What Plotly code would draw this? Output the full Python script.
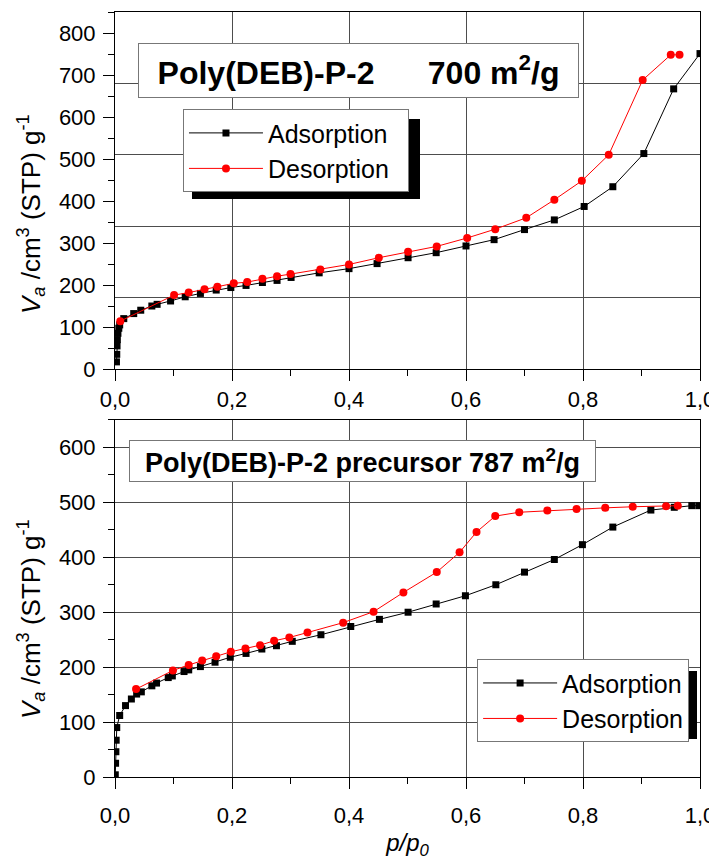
import plotly.graph_objects as go

# ---------------- data ----------------
# Top panel: Poly(DEB)-P-2 (700 m2/g)
top_ads_x = [0.0025, 0.003, 0.0035, 0.004, 0.005, 0.0065, 0.008, 0.015, 0.032, 0.044, 0.063, 0.072, 0.095,
             0.12, 0.146, 0.173, 0.198, 0.224, 0.252, 0.277, 0.301, 0.349, 0.4, 0.448, 0.501, 0.549, 0.6,
             0.648, 0.7, 0.751, 0.802, 0.851, 0.904, 0.955, 1.0]
top_ads_y = [17, 35, 55, 70, 85, 97, 105, 120, 132, 140, 150, 154, 162,
             172, 180, 188, 194, 199, 206, 211, 218, 229, 239, 251, 265, 277, 293,
             308, 332, 355, 387, 434, 513, 667, 751]
top_des_x = [0.009, 0.101, 0.126, 0.153, 0.175, 0.203, 0.226, 0.252, 0.277, 0.3, 0.351, 0.4, 0.451,
             0.501, 0.55, 0.602, 0.65, 0.703, 0.751, 0.798, 0.844, 0.902, 0.95, 0.965]
top_des_y = [114, 176, 182, 190, 196, 204, 207, 215, 221, 226, 237, 249, 265,
             279, 292, 312, 333, 360, 403, 448, 510, 688, 748, 748]

# Bottom panel: Poly(DEB)-P-2 precursor (787 m2/g)
bot_ads_x = [0.0005, 0.001, 0.0015, 0.002, 0.003, 0.008, 0.018, 0.028, 0.037, 0.045, 0.063, 0.071, 0.091,
             0.098, 0.118, 0.126, 0.146, 0.171, 0.197, 0.224, 0.251, 0.276, 0.303, 0.352, 0.403, 0.452,
             0.501, 0.549, 0.599, 0.651, 0.7, 0.751, 0.799, 0.851, 0.916, 0.956, 0.986, 0.998]
bot_ads_y = [4, 25, 46, 67, 90, 112, 130, 142, 151, 155, 166, 171, 181,
             184, 192, 195, 201, 209, 218, 225, 233, 239, 247, 259, 274, 287,
             300, 315, 330, 350, 373, 396, 423, 455, 486, 491, 494, 494]
bot_des_x = [0.036, 0.099, 0.126, 0.149, 0.173, 0.198, 0.223, 0.248, 0.272, 0.298, 0.329, 0.39, 0.442,
             0.493, 0.55, 0.589, 0.618, 0.65, 0.691, 0.739, 0.789, 0.838, 0.885, 0.942, 0.962]
bot_des_y = [160, 194, 204, 212, 220, 228, 234, 240, 248, 254, 263, 281, 301,
             336, 373, 409, 446, 475, 482, 485, 488, 490, 492, 493, 494]

series_names = ["Adsorption", "Desorption"]
panel_titles = ["<b>Poly(DEB)-P-2      700 m<sup>2</sup>/g</b>",
                "<b>Poly(DEB)-P-2 precursor 787 m<sup>2</sup>/g</b>"]
y_title = "<i>V</i><sub><i>a</i></sub> /cm<sup>3</sup> (STP) g<sup>-1</sup>"
x_title = "<i>p/p<sub>0</sub></i>"
x_tickvals = [0.0, 0.2, 0.4, 0.6, 0.8, 1.0]

# ---------------- styling ----------------
FONT = "Liberation Sans, Arial, Helvetica, sans-serif"
GRID = "#4d4d4d"
ADS_COLOR = "#000000"
DES_COLOR = "#ff0000"

fig = go.Figure()

def add_pair(ax, ay, dx, dy, xa, ya, legend, pad=""):
    fig.add_trace(go.Scatter(x=ax, y=ay, name=series_names[0] + pad, mode="lines+markers",
                             line=dict(color=ADS_COLOR, width=1),
                             marker=dict(symbol="square", size=7, color=ADS_COLOR),
                             xaxis=xa, yaxis=ya, legend=legend))
    fig.add_trace(go.Scatter(x=dx, y=dy, name=series_names[1] + pad, mode="lines+markers",
                             line=dict(color=DES_COLOR, width=1),
                             marker=dict(symbol="circle", size=8, color=DES_COLOR),
                             xaxis=xa, yaxis=ya, legend=legend))

# the top legend box is a little wider in the original: pad with non-breaking spaces
add_pair(top_ads_x, top_ads_y, top_des_x, top_des_y, "x", "y", "legend", pad="\u00a0\u00a0")
add_pair(bot_ads_x, bot_ads_y, bot_des_x, bot_des_y, "x2", "y2", "legend2")
# empty trace registering the overlay grid axis of the top panel
fig.add_trace(go.Scatter(x=[], y=[], xaxis="x", yaxis="y3", showlegend=False, hoverinfo="skip"))

tick_font = dict(family=FONT, size=22, color="black")
common_x = dict(range=[0, 1], tickvals=x_tickvals, tickformat=".1f", ticks="outside", ticklen=11,
                tickwidth=1, tickcolor="black", showline=True, linecolor="black", linewidth=1,
                mirror=True, showgrid=True, gridcolor=GRID, gridwidth=1, zeroline=False,
                tickfont=tick_font,
                minor=dict(dtick=0.1, tick0=0, ticks="outside", ticklen=6, tickcolor="black", showgrid=False))
common_y = dict(ticks="outside", ticklen=11, tickwidth=1, tickcolor="black", showline=True,
                linecolor="black", linewidth=1, mirror=True, zeroline=False, tickfont=tick_font,
                dtick=100, tick0=0, ticklabelstandoff=3,
                minor=dict(dtick=50, tick0=0, ticks="outside", ticklen=6, tickcolor="black", showgrid=False))

legend_common = dict(xanchor="left", yanchor="top", bgcolor="white", bordercolor="#777777",
                     borderwidth=1, font=dict(family=FONT, size=25), itemwidth=74, tracegroupgap=0)

# page is offset by the browser's 8px body margin, so the figure is 8px smaller
fig.update_layout(
    width=709, height=852,
    margin=dict(l=107, r=17, t=4, b=83, autoexpand=False),
    paper_bgcolor="white", plot_bgcolor="white",
    separators=",.",
    font=dict(family=FONT, color="black"),
    xaxis=dict(common_x, anchor="y", domain=[0, 1]),
    yaxis=dict(common_y, range=[0, 850], domain=[0.5333, 1.0], anchor="x", showgrid=False),
    yaxis3=dict(range=[0, 850], overlaying="y", anchor="x", dtick=170, tick0=0, showgrid=True,
                gridcolor=GRID, gridwidth=1, showticklabels=False, ticks="", showline=False,
                zeroline=False),
    xaxis2=dict(common_x, anchor="y2", domain=[0, 1], ticklabelstandoff=8,
                title=dict(text=x_title, font=dict(family=FONT, size=24), standoff=10)),
    yaxis2=dict(common_y, range=[0, 650], domain=[0, 0.4667], anchor="x2", showgrid=True,
                gridcolor=GRID, gridwidth=1),
    legend=dict(legend_common, x=0.1162, y=0.873),
    legend2=dict(legend_common, x=0.619, y=0.154),
    showlegend=True,
)

# positions below are in reference-page pixels converted to paper fractions
def px_x(p):
    return (p - 115) / 585

def px_y(p):
    return (777 - p) / 765

# panel title boxes
fig.add_annotation(text=panel_titles[0], xref="x domain", yref="y domain", x=0.416, y=0.836,
                   xanchor="center", yanchor="middle",
                   showarrow=False, font=dict(family=FONT, size=32, color="black"),
                   bgcolor="white", bordercolor="#777777", borderwidth=1, borderpad=0,
                   width=439, height=53, align="center", valign="middle")
fig.add_annotation(text=panel_titles[1], xref="x2 domain", yref="y2 domain", x=0.423, y=0.884,
                   xanchor="center", yanchor="middle",
                   showarrow=False, font=dict(family=FONT, size=27, color="black"),
                   bgcolor="white", bordercolor="#777777", borderwidth=1, borderpad=0,
                   width=465, height=40, align="center", valign="middle")

# y-axis titles
fig.add_annotation(text=y_title, xref="paper", yref="paper", x=px_x(31), y=px_y(214),
                   xanchor="center", yanchor="middle", textangle=-90, showarrow=False,
                   font=dict(family=FONT, size=26, color="black"))
fig.add_annotation(text=y_title, xref="paper", yref="paper", x=px_x(31), y=px_y(619),
                   xanchor="center", yanchor="middle", textangle=-90, showarrow=False,
                   font=dict(family=FONT, size=26, color="black"))

# legend drop shadows (offset ~9px right/down of each legend box)
fig.add_shape(type="rect", xref="paper", yref="paper", x0=px_x(192), x1=px_x(420),
              y0=px_y(199), y1=px_y(119), fillcolor="black", line=dict(width=0), layer="above")
fig.add_shape(type="rect", xref="paper", yref="paper", x0=px_x(486), x1=px_x(697),
              y0=px_y(739), y1=px_y(671), fillcolor="black", line=dict(width=0), layer="above")

fig.write_html("out.html")
